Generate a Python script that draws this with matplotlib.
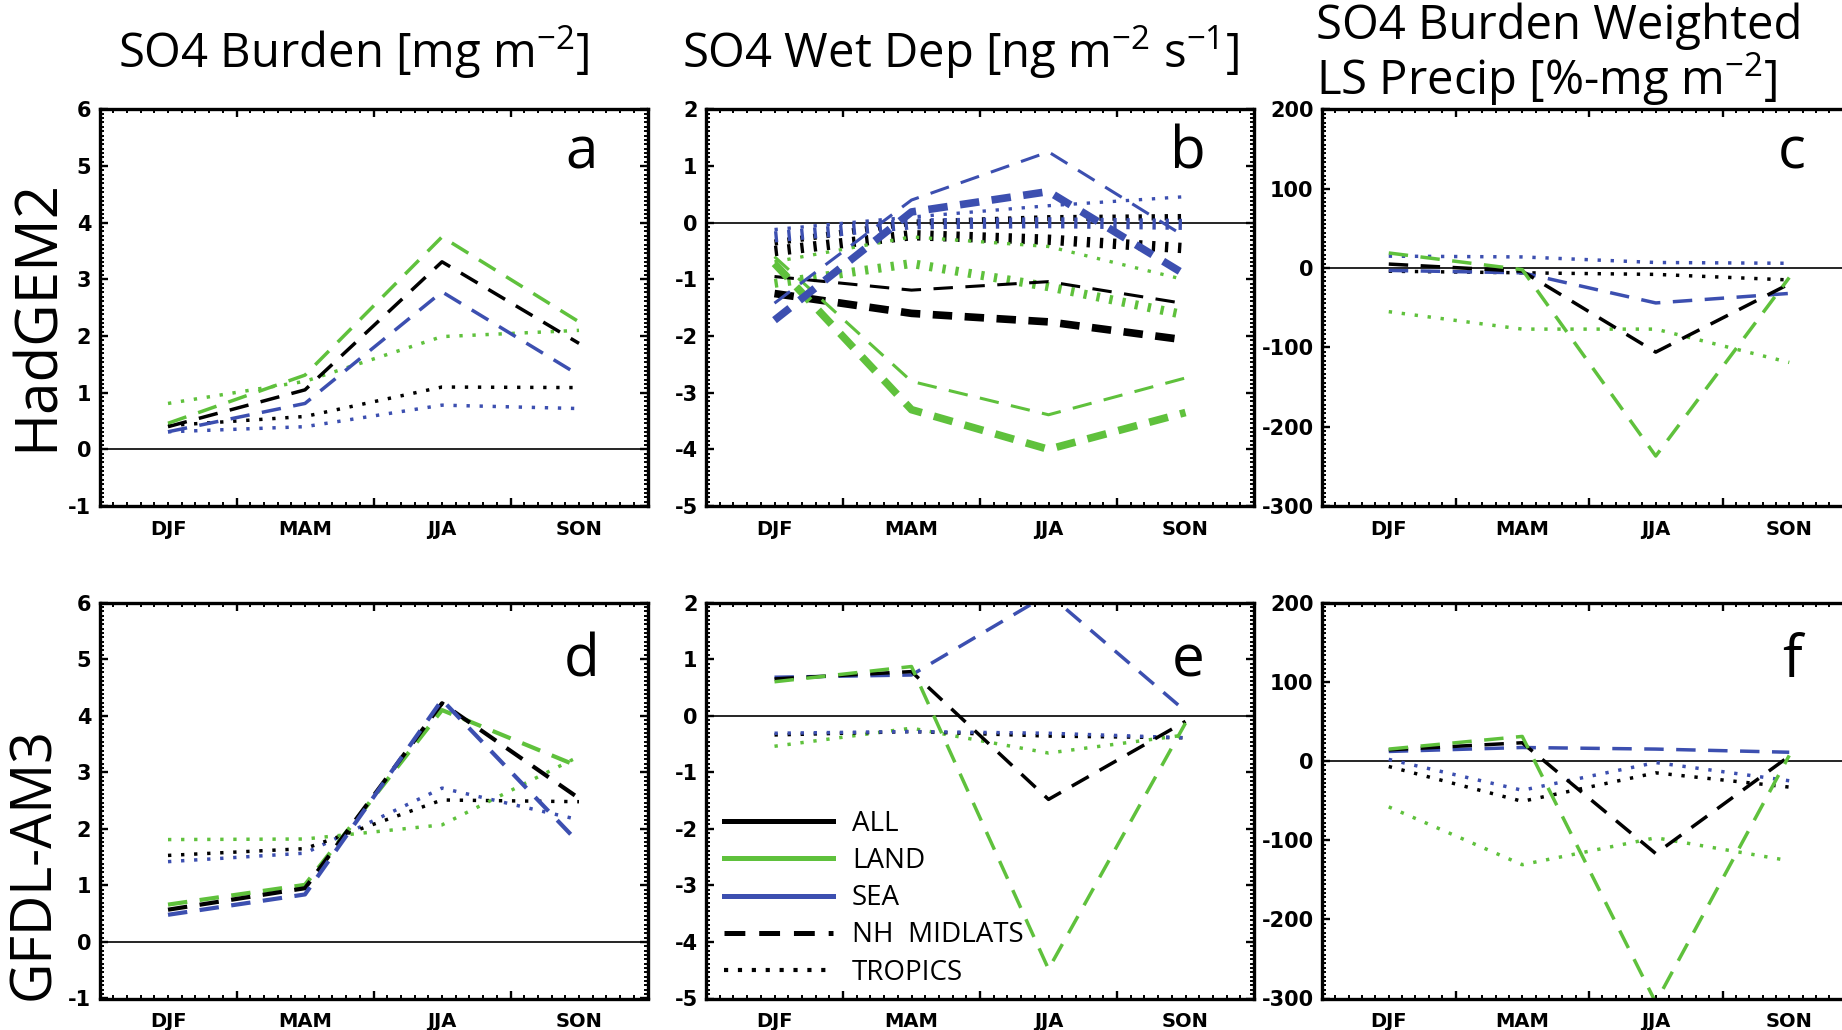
import matplotlib
matplotlib.use("Agg")
import matplotlib.pyplot as plt
from matplotlib.lines import Line2D
from matplotlib.ticker import FixedLocator, MultipleLocator, FuncFormatter
import numpy as np

plt.rcParams['font.family'] = 'DejaVu Sans'
plt.rcParams['mathtext.fontset'] = 'custom'
plt.rcParams['mathtext.rm'] = 'Open Sans'
plt.rcParams['lines.scale_dashes'] = False
plt.rcParams['axes.unicode_minus'] = False

seasons = ['DJF', 'MAM', 'JJA', 'SON']

# HadGEM2 - SO4 burden
a_all_nh = [0.40, 1.05, 3.31, 1.87]
a_land_nh = [0.46, 1.31, 3.75, 2.25]
a_sea_nh = [0.31, 0.81, 2.78, 1.31]
a_all_tr = [0.42, 0.58, 1.10, 1.09]
a_land_tr = [0.81, 1.20, 1.99, 2.10]
a_sea_tr = [0.31, 0.40, 0.78, 0.72]

# HadGEM2 - SO4 wet dep (thin and thick versions)
b_all_nh = [-0.95, -1.19, -1.04, -1.43]
b_all_nh_2 = [-1.25, -1.60, -1.75, -2.07]
b_land_nh = [-0.60, -2.80, -3.39, -2.74]
b_land_nh_2 = [-0.72, -3.30, -4.00, -3.35]
b_sea_nh = [-1.42, 0.40, 1.25, -0.25]
b_sea_nh_2 = [-1.72, 0.19, 0.55, -0.92]
b_all_tr = [-0.35, 0.00, 0.08, 0.10]
b_all_tr_2 = [-0.50, -0.22, -0.30, -0.45]
b_land_tr = [-0.69, -0.25, -0.42, -1.01]
b_land_tr_2 = [-1.07, -0.72, -1.13, -1.63]
b_sea_tr = [-0.12, 0.10, 0.30, 0.46]
b_sea_tr_2 = [-0.25, -0.02, 0.00, -0.03]

# HadGEM2 - burden weighted LS precip
c_all_nh = [5, -4, -106, -20]
c_land_nh = [19, -2, -237, -12]
c_sea_nh = [-3, -6, -44, -32]
c_all_tr = [-4, -6, -8, -15]
c_land_tr = [-55, -77, -77, -119]
c_sea_tr = [15, 14, 7, 6]

# GFDL-AM3 - SO4 burden
d_all_nh = [0.57, 0.95, 4.22, 2.54]
d_land_nh = [0.66, 1.01, 4.10, 3.10]
d_sea_nh = [0.48, 0.84, 4.28, 1.75]
d_all_tr = [1.53, 1.65, 2.51, 2.48]
d_land_tr = [1.81, 1.82, 2.07, 3.28]
d_sea_tr = [1.42, 1.57, 2.72, 2.16]

# GFDL-AM3 - SO4 wet dep
e_all_nh = [0.65, 0.78, -1.48, -0.10]
e_land_nh = [0.60, 0.87, -4.48, -0.13]
e_sea_nh = [0.68, 0.72, 2.15, 0.08]
e_all_tr = [-0.34, -0.28, -0.36, -0.39]
e_land_tr = [-0.54, -0.22, -0.66, -0.34]
e_sea_tr = [-0.31, -0.28, -0.31, -0.39]

# GFDL-AM3 - burden weighted LS precip
f_all_nh = [14, 23, -117, 6]
f_land_nh = [15, 31, -305, 7]
f_sea_nh = [12, 17, 15, 11]
f_all_tr = [-7, -51, -15, -33]
f_land_tr = [-58, -131, -97, -126]
f_sea_tr = [2, -37, -2, -25]

BLACK = 'black'
GREEN = '#5fc13c'
BLUE = '#3c4fb0'
DASH = (0, (14, 9))
DOT = (0, (2.4, 7.0))

x = np.arange(len(seasons)) + 0.5

fig = plt.figure(figsize=(18.42, 10.30), dpi=100)

W, H = 1842.0, 1030.0
cols = [(99.5, 647.5), (706, 1254), (1322, 1856)]
rows = [(109.4, 506), (602.6, 998.5)]


def make_ax(col, row):
    x0, x1 = cols[col]
    y0, y1 = rows[row]
    return fig.add_axes([x0 / W, 1 - y1 / H, (x1 - x0) / W, (y1 - y0) / H])


def style_ax(ax, ylim, ystep, yminor):
    ax.set_xlim(0, 4)
    ax.set_ylim(*ylim)
    ax.axhline(0, color='black', lw=1.2, zorder=1)
    ax.xaxis.set_major_locator(FixedLocator([1, 2, 3]))
    ax.xaxis.set_major_formatter(FuncFormatter(lambda v, p: ''))
    ax.xaxis.set_minor_locator(FixedLocator(np.round(np.arange(0.1, 4.0, 0.1), 2)))

    def season_fmt(v, p):
        k = v - 0.5
        if abs(k - round(k)) < 1e-6 and 0 <= round(k) < 4:
            return seasons[int(round(k))]
        return ''
    ax.xaxis.set_minor_formatter(FuncFormatter(season_fmt))
    ax.yaxis.set_major_locator(MultipleLocator(ystep))
    ax.yaxis.set_minor_locator(MultipleLocator(yminor))
    ax.tick_params(which='both', direction='in', top=True, right=True)
    ax.tick_params(which='major', length=6, width=1.7)
    ax.tick_params(which='minor', length=2.6, width=1.4)
    ax.tick_params(axis='x', which='minor', pad=10, labelsize=14)
    ax.tick_params(axis='y', which='major', pad=6, labelsize=15)
    for lab in ax.get_xticklabels(minor=True) + ax.get_yticklabels():
        lab.set_fontweight('bold')
    for s in ax.spines.values():
        s.set_linewidth(2.4)


def draw(ax, series):
    for vals, color, ls, lw in series:
        ax.plot(x, vals, color=color, linestyle=ls, lw=lw, zorder=2)


def letter(ax, s, yfrac):
    ax.text(0.88, yfrac, s, transform=ax.transAxes, ha='center', va='baseline',
            fontsize=42, family='Open Sans')


thin = 2.5
ax_a = make_ax(0, 0)
style_ax(ax_a, (-1, 6), 1, 1 / 13)
draw(ax_a, [
    (a_sea_tr, BLUE, DOT, thin), (a_all_tr, BLACK, DOT, thin), (a_land_tr, GREEN, DOT, thin),
    (a_sea_nh, BLUE, DASH, thin), (a_all_nh, BLACK, DASH, thin), (a_land_nh, GREEN, DASH, thin),
])
letter(ax_a, 'a', 0.852)

ax_b = make_ax(1, 0)
style_ax(ax_b, (-5, 2), 1, 1 / 13)
draw(ax_b, [
    (b_land_tr_2, GREEN, DOT, 6.5), (b_all_tr_2, BLACK, DOT, 7.5), (b_all_tr, BLACK, DOT, 4.5),
    (b_sea_tr_2, BLUE, DOT, 8.0), (b_land_tr, GREEN, DOT, 2.4), (b_sea_tr, BLUE, DOT, 2.4),
    (b_all_nh, BLACK, DASH, 2.2), (b_all_nh_2, BLACK, DASH, 5.5),
    (b_land_nh, GREEN, DASH, 2.2), (b_land_nh_2, GREEN, DASH, 5.5),
    (b_sea_nh, BLUE, DASH, 2.2), (b_sea_nh_2, BLUE, DASH, 5.5),
])
letter(ax_b, 'b', 0.852)

ax_c = make_ax(2, 0)
style_ax(ax_c, (-300, 200), 100, 100 / 18)
draw(ax_c, [
    (c_sea_tr, BLUE, DOT, thin), (c_all_tr, BLACK, DOT, thin), (c_land_tr, GREEN, DOT, thin),
    (c_sea_nh, BLUE, DASH, thin), (c_all_nh, BLACK, DASH, thin), (c_land_nh, GREEN, DASH, thin),
])
letter(ax_c, 'c', 0.852)

ax_d = make_ax(0, 1)
style_ax(ax_d, (-1, 6), 1, 1 / 13)
draw(ax_d, [
    (d_sea_tr, BLUE, DOT, thin), (d_all_tr, BLACK, DOT, thin), (d_land_tr, GREEN, DOT, thin),
    (d_land_nh, GREEN, DASH, 3.0), (d_all_nh, BLACK, DASH, 3.0), (d_sea_nh, BLUE, DASH, 3.0),
])
letter(ax_d, 'd', 0.813)

ax_e = make_ax(1, 1)
style_ax(ax_e, (-5, 2), 1, 1 / 13)
draw(ax_e, [
    (e_land_tr, GREEN, DOT, thin), (e_all_tr, BLACK, DOT, thin), (e_sea_tr, BLUE, DOT, thin),
    (e_sea_nh, BLUE, DASH, thin), (e_all_nh, BLACK, DASH, thin), (e_land_nh, GREEN, DASH, thin),
])
letter(ax_e, 'e', 0.813)

ax_f = make_ax(2, 1)
style_ax(ax_f, (-300, 200), 100, 100 / 18)
draw(ax_f, [
    (f_sea_tr, BLUE, DOT, thin), (f_all_tr, BLACK, DOT, thin), (f_land_tr, GREEN, DOT, thin),
    (f_sea_nh, BLUE, DASH, thin), (f_all_nh, BLACK, DASH, thin), (f_land_nh, GREEN, DASH, thin),
])
letter(ax_f, 'f', 0.813)

legend_labels = ['ALL', 'LAND', 'SEA', 'NH  MIDLATS', 'TROPICS']
handles = [
    Line2D([], [], color=BLACK, lw=3.6),
    Line2D([], [], color=GREEN, lw=3.6),
    Line2D([], [], color=BLUE, lw=3.6),
    Line2D([], [], color=BLACK, lw=3.6, linestyle=(0, (15, 10))),
    Line2D([], [], color=BLACK, lw=3.0, linestyle=(0, (3, 7))),
]
ax_e.legend(handles, legend_labels, loc='lower left', bbox_to_anchor=(0.003, -0.012),
            frameon=False, handlelength=3.9, handletextpad=0.7, labelspacing=0.33,
            borderaxespad=0.2, prop={'family': 'Open Sans', 'size': 20})

# column titles
tfont = dict(family='Open Sans', fontsize=34, va='baseline')
fig.text(354 / W, 1 - 67 / H, r'SO4 Burden [mg m$^{-2}$]', ha='center', **tfont)
fig.text(960 / W, 1 - 67 / H, r'SO4 Wet Dep [ng m$^{-2}$ s$^{-1}$]', ha='center', **tfont)
fig.text(1316 / W, 1 - 39 / H, 'SO4 Burden Weighted', ha='left', **tfont)
fig.text(1316 / W, 1 - 94 / H, r'LS Precip [%-mg m$^{-2}$]', ha='left', **tfont)

# row labels
fig.text(38 / W, 1 - 315 / H, 'HadGEM2', rotation=90, ha='center', va='center',
         family='Open Sans', fontsize=42)
fig.text(35 / W, 1 - 864 / H, 'GFDL-AM3', rotation=90, ha='center', va='center',
         family='Open Sans', fontsize=40)

fig.savefig('out.png', dpi=100)
